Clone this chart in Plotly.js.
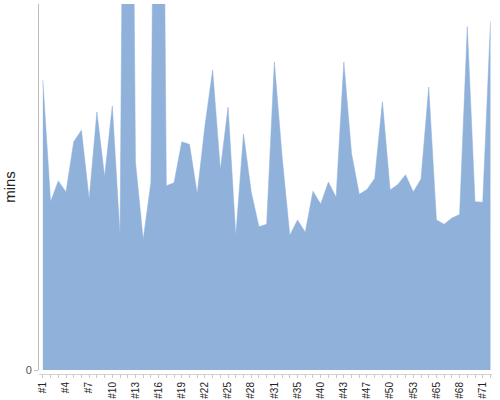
<!DOCTYPE html>
<html>
<head>
<meta charset="utf-8">
<script src="https://cdn.plot.ly/plotly-3.0.1.min.js"></script>
<style>html,body{margin:0;padding:0;background:#fff;}#chart{width:500px;height:400px;}</style>
</head>
<body>
<div id="chart"></div>
<script>
const categories = ['#1','#2','#3','#4','#5','#6','#7','#8','#9','#10','#11','#12','#13','#14','#15','#16','#17','#18','#19','#20','#21','#22','#23','#24','#25','#26','#27','#28','#29','#30','#31','#32','#34','#35','#37','#38','#40','#41','#42','#43','#44','#46','#47','#48','#49','#50','#51','#52','#53','#57','#61','#65','#66','#67','#68','#69','#70','#71','#72'];
const mins = [47.5,27.6,31.0,29.2,37.4,39.3,28.0,42.3,31.7,43.3,22.0,190,34.1,21.4,30.7,190,30.2,30.7,37.4,37.0,28.9,40.0,49.2,32.8,43.1,22.0,38.7,29.2,23.5,23.9,50.5,35.0,22.1,24.6,22.6,29.3,27.2,30.8,28.3,50.5,35.5,28.8,29.6,31.4,44.0,29.5,30.4,32.0,29.2,31.3,46.4,24.6,23.9,24.9,25.5,56.3,27.6,27.5,57.1];
const shownLabels = ['#1','#4','#7','#10','#13','#16','#19','#22','#25','#28','#31','#35','#40','#43','#47','#50','#53','#65','#68','#71'];
const yTicks = [0];

const trace = {
  type: 'scatter',
  mode: 'lines',
  x: categories,
  y: mins,
  fill: 'tozeroy',
  fillcolor: '#8fb1da',
  line: {color: '#8fb1da', width: 0.5},
  hoverinfo: 'x+y'
};

const layout = {
  width: 500, height: 400,
  margin: {l: 39, r: 8, t: 4, b: 26, pad: 0},
  paper_bgcolor: '#fff', plot_bgcolor: '#fff',
  showlegend: false,
  font: {family: 'Liberation Sans, Arial, sans-serif', color: '#333'},
  xaxis: {
    type: 'category',
    range: [-0.5, 58.2],
    anchor: 'free', position: 0,
    tickmode: 'array',
    tickvals: categories,
    ticktext: categories.map(c => shownLabels.includes(c) ? c : ''),
    tickangle: -90,
    ticks: 'outside', ticklen: 3, tickcolor: '#c8c8c8', tickwidth: 1,
    showline: true, linecolor: '#d0d0d0', linewidth: 1,
    showgrid: false, zeroline: false,
    tickfont: {size: 10, color: '#222'}
  },
  yaxis: {
    domain: [0.0108, 1],
    range: [0, 60],
    tickmode: 'array', tickvals: yTicks, ticktext: yTicks.map(String),
    ticks: 'outside', ticklen: 4, tickcolor: '#bbb',
    showline: true, linecolor: '#bbb', linewidth: 1,
    showgrid: false, zeroline: false,
    tickfont: {size: 11, color: '#555'},
    title: {text: 'mins', font: {size: 15, color: '#222'}, standoff: 6}
  }
};

Plotly.newPlot('chart', [trace], layout, {displayModeBar: false, staticPlot: true});
</script>
</body>
</html>
